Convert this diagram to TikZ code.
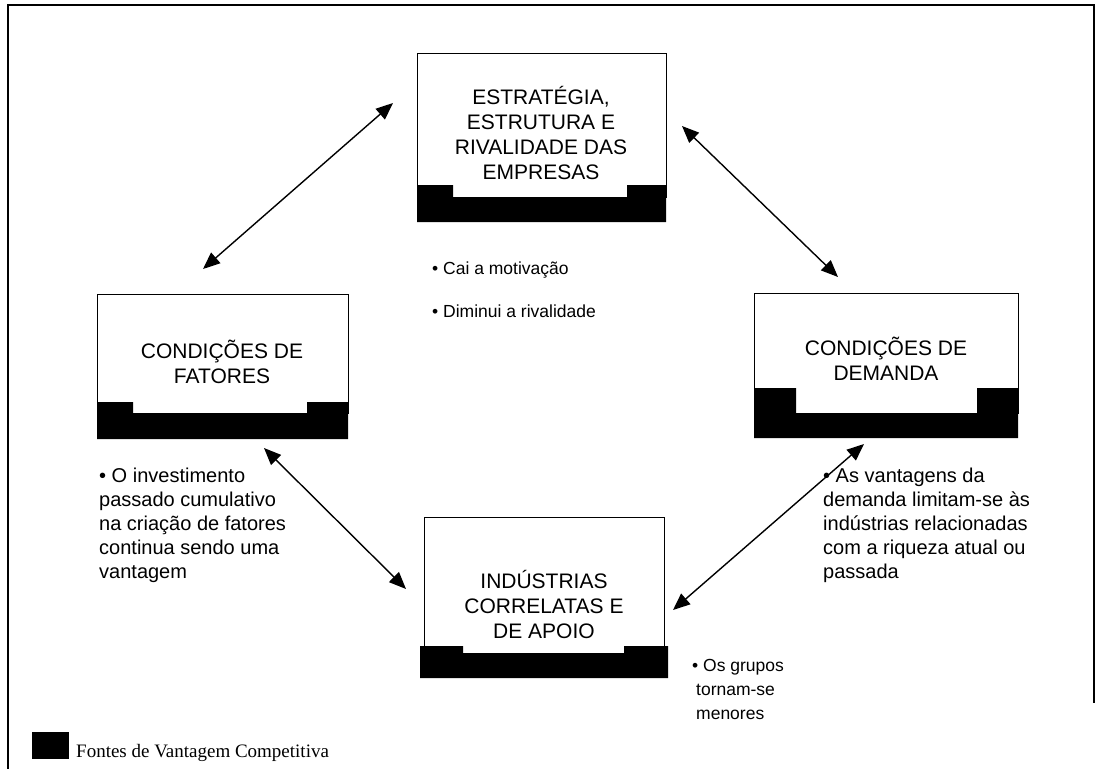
\documentclass[tikz,border=0pt]{standalone}
\usepackage{fontspec}
\setmainfont{Liberation Sans}
\newfontfamily\legendfont{Liberation Serif}
\usetikzlibrary{arrows.meta}
\begin{document}
\begin{tikzpicture}[x=1pt,y=-1pt,
  boxframe/.style={draw=black, line width=1.3pt, fill=white, inner sep=0pt},
  boxtext/.style={align=center, inner sep=0pt, font=\fontsize{21}{25}\selectfont},
  note/.style={align=left, inner sep=0pt, font=\fontsize{20}{24}\selectfont},
  smallnote/.style={align=left, inner sep=0pt, font=\fontsize{17.5}{24}\selectfont},
  base/.style={fill=black},
  dblarrow/.style={line width=1.4pt, {Triangle[length=17pt,width=14pt]}-{Triangle[length=17pt,width=14pt]}}
]
\useasboundingbox (0,0) rectangle (1104,769);
\fill[white] (0,0) rectangle (1104,769);
% outer frame
\draw[line width=1.8pt] (8,769) -- (8,5) -- (1094,5) -- (1094,703);

% top box
\node[boxframe, minimum width=249pt, minimum height=144pt, anchor=north west] (est) at (417,53) {};
\fill[base] (417,185) -- (453,185) -- (453,197) -- (627,197) -- (627,185) -- (666,185) -- (666,222) -- (417,222) -- cycle;
\node[boxtext, anchor=base] (estT) at (541,179) {ESTRATÉGIA,\\ESTRUTURA E\\RIVALIDADE DAS\\EMPRESAS};

% left box
\node[boxframe, minimum width=251pt, minimum height=119pt, anchor=north west] (fat) at (97,294) {};
\fill[base] (97,402) -- (133,402) -- (133,413) -- (307,413) -- (307,402) -- (348,402) -- (348,439) -- (97,439) -- cycle;
\node[boxtext, anchor=base] (fatT) at (222,383) {CONDIÇÕES DE\\FATORES};

% right box
\node[boxframe, minimum width=264pt, minimum height=120pt, anchor=north west] (dem) at (754,293) {};
\fill[base] (754,388) -- (796,388) -- (796,413) -- (977,413) -- (977,388) -- (1018,388) -- (1018,438) -- (754,438) -- cycle;
\node[boxtext, anchor=base] (demT) at (886,380) {CONDIÇÕES DE\\DEMANDA};

% bottom box
\node[boxframe, minimum width=240pt, minimum height=136pt, anchor=north west] (ind) at (424,517) {};
\fill[base] (420,646) -- (463,646) -- (463,653) -- (624,653) -- (624,646) -- (668,646) -- (668,678) -- (420,678) -- cycle;
\node[boxtext, anchor=base] (indT) at (544,638) {INDÚSTRIAS\\CORRELATAS E\\DE APOIO};

% arrows
\coordinate (a1s) at (203,269); \coordinate (a1e) at (393,103);
\coordinate (a2s) at (682,126); \coordinate (a2e) at (838,277);
\coordinate (a3s) at (264,448); \coordinate (a3e) at (406,589);
\coordinate (a4s) at (864,444); \coordinate (a4e) at (673,610);
\draw[dblarrow] (a1s) -- (a1e);
\draw[dblarrow] (a2s) -- (a2e);
\draw[dblarrow] (a3s) -- (a3e);
\draw[dblarrow] (a4s) -- (a4e);

% notes
\node[smallnote, anchor=base west] (n1) at (432,274) {• Cai a motivação};
\node[smallnote, anchor=base west] (n2) at (432,317) {• Diminui a rivalidade};
\node[note, anchor=base west] (n3) at (99,578) {• O investimento\\passado cumulativo\\na criação de fatores\\continua sendo uma\\vantagem};
\node[note, anchor=base west] (n4) at (823,578) {• As vantagens da\\demanda limitam-se às\\indústrias relacionadas\\com a riqueza atual ou\\passada};
\node[smallnote, anchor=base west] (n5) at (692,719) {• Os grupos\\\hspace*{4pt}tornam-se\\\hspace*{4pt}menores};

% legend
\fill[black] (32,732) rectangle (69,759);
\node[inner sep=0pt, anchor=base west, font=\legendfont\fontsize{19}{22}\selectfont] (leg) at (76,757) {Fontes de Vantagem Competitiva};
\end{tikzpicture}
\end{document}
